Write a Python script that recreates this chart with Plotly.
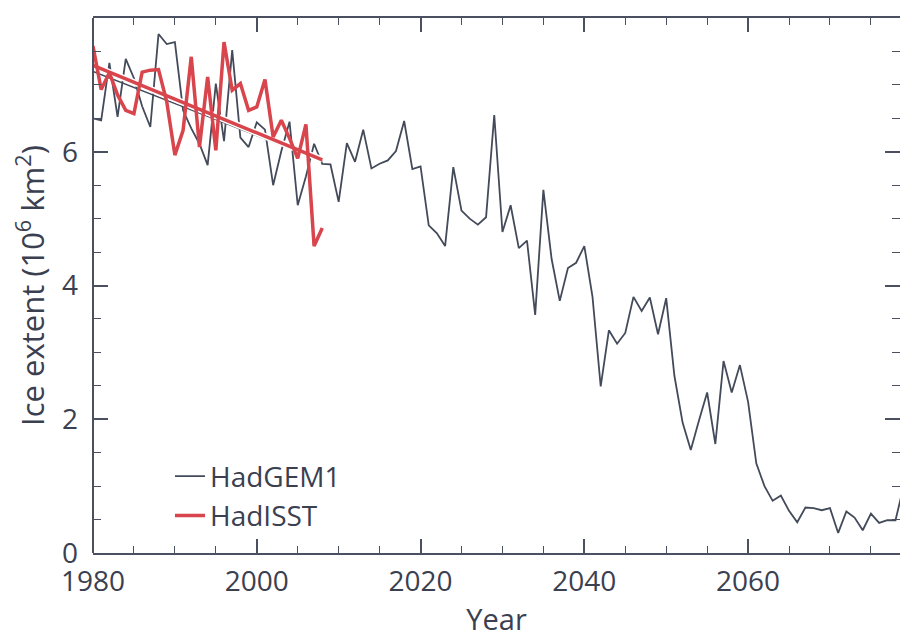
import plotly.graph_objects as go

# ---------------- data ----------------
years_hadgem1 = list(range(1980, 2080))
hadgem1 = [
    6.50, 6.47, 7.33, 6.52, 7.39, 7.10, 6.68, 6.37, 7.76, 7.61,
    7.64, 6.62, 6.35, 6.12, 5.80, 7.02, 6.16, 7.52, 6.21, 6.07,
    6.44, 6.33, 5.50, 6.01, 6.45, 5.20, 5.63, 6.12, 5.82, 5.81,
    5.25, 6.13, 5.85, 6.33, 5.75, 5.82, 5.87, 6.01, 6.46, 5.74,
    5.78, 4.90, 4.78, 4.59, 5.77, 5.12, 5.00, 4.91, 5.02, 6.55,
    4.80, 5.20, 4.56, 4.67, 3.56, 5.43, 4.40, 3.77, 4.26, 4.34,
    4.59, 3.83, 2.49, 3.33, 3.13, 3.29, 3.83, 3.62, 3.82, 3.27,
    3.81, 2.65, 1.95, 1.54, 1.98, 2.40, 1.63, 2.87, 2.40, 2.81,
    2.26, 1.34, 1.00, 0.78, 0.86, 0.63, 0.46, 0.68, 0.67, 0.64,
    0.67, 0.30, 0.62, 0.53, 0.34, 0.59, 0.45, 0.49, 0.49, 1.00,
]

years_hadisst = list(range(1980, 2009))
hadisst = [
    7.58, 6.93, 7.18, 6.85, 6.62, 6.57, 7.19, 7.22, 7.23, 6.75,
    5.95, 6.32, 7.42, 6.07, 7.12, 6.02, 7.64, 6.92, 7.02, 6.62,
    6.67, 7.08, 6.22, 6.47, 6.20, 5.90, 6.41, 4.59, 4.86,
]

trend_years = [1980, 2008]
trend_hadisst = [7.29, 5.88]
trend_hadgem1 = [7.20, 5.86]

x_tick_vals = [1980, 2000, 2020, 2040, 2060]
x_tick_text = ["1980", "2000", "2020", "2040", "2060"]
y_tick_vals = [0, 2, 4, 6, 8]

# ---------------- styles ----------------
DARK = "#434a5a"
RED = "#d8454c"
AXIS = "#4a505f"
TEXT = "#3b4050"
FONT = "Open Sans"

fig = go.Figure()

fig.add_trace(go.Scatter(
    x=years_hadgem1, y=hadgem1, mode="lines", name="HadGEM1",
    line=dict(color=DARK, width=1.8), legendgroup="g1",
))
fig.add_trace(go.Scatter(
    x=trend_years, y=trend_hadgem1, mode="lines", showlegend=False,
    line=dict(color=DARK, width=1.5), hoverinfo="skip",
))
fig.add_trace(go.Scatter(
    x=trend_years, y=trend_hadisst, mode="lines", showlegend=False,
    line=dict(color="white", width=6.5), hoverinfo="skip",
))
fig.add_trace(go.Scatter(
    x=trend_years, y=trend_hadisst, mode="lines", showlegend=False,
    line=dict(color=RED, width=3.5), hoverinfo="skip",
))
fig.add_trace(go.Scatter(
    x=years_hadisst, y=hadisst, mode="lines", name="HadISST",
    line=dict(color=RED, width=3.5), legendgroup="g2",
))

fig.update_layout(
    width=900, height=638,
    margin=dict(l=93, r=0, t=18, b=85),
    paper_bgcolor="white", plot_bgcolor="white",
    font=dict(family=FONT, size=28, color=TEXT),
    showlegend=True,
    legend=dict(
        x=0.0954, y=0.19, xanchor="left", yanchor="top",
        bgcolor="rgba(0,0,0,0)", font=dict(size=28, color=TEXT),
        tracegroupgap=0, itemwidth=30,
    ),
    xaxis=dict(
        range=[1980, 2078.55], tickmode="array",
        tickvals=x_tick_vals, ticktext=x_tick_text,
        ticks="inside", ticklen=14, tickwidth=1.5, tickcolor=AXIS,
        minor=dict(dtick=5, tick0=1980, ticks="inside", ticklen=7,
                   tickwidth=1.2, tickcolor=AXIS),
        showline=True, linecolor=AXIS, linewidth=2, mirror="ticks",
        showgrid=False, zeroline=False,
        ticklabelstandoff=2,
        tickfont=dict(size=28, color=TEXT),
        title=dict(text="Year", font=dict(size=29, color=TEXT), standoff=12),
    ),
    yaxis=dict(
        range=[0, 8], tickmode="array", tickvals=y_tick_vals,
        ticks="inside", ticklen=15, tickwidth=1.5, tickcolor=AXIS,
        minor=dict(dtick=0.5, tick0=0, ticks="inside", ticklen=8,
                   tickwidth=1.2, tickcolor=AXIS),
        showline=False, mirror="ticks",
        showgrid=False, zeroline=False,
        ticklabelstandoff=14,
        tickfont=dict(size=28, color=TEXT),
        title=dict(text="Ice extent (10<sup>6</sup> km<sup>2</sup>)",
                   font=dict(size=31, color=TEXT), standoff=8),
    ),
    shapes=[dict(type="line", xref="paper", yref="paper",
                 x0=0, x1=0, y0=0, y1=1,
                 line=dict(color=AXIS, width=2))],
)

fig.write_html(
    "out.html",
    config={"displayModeBar": False},
    post_script="document.body.style.margin='0px';document.body.style.padding='0px';",
)
